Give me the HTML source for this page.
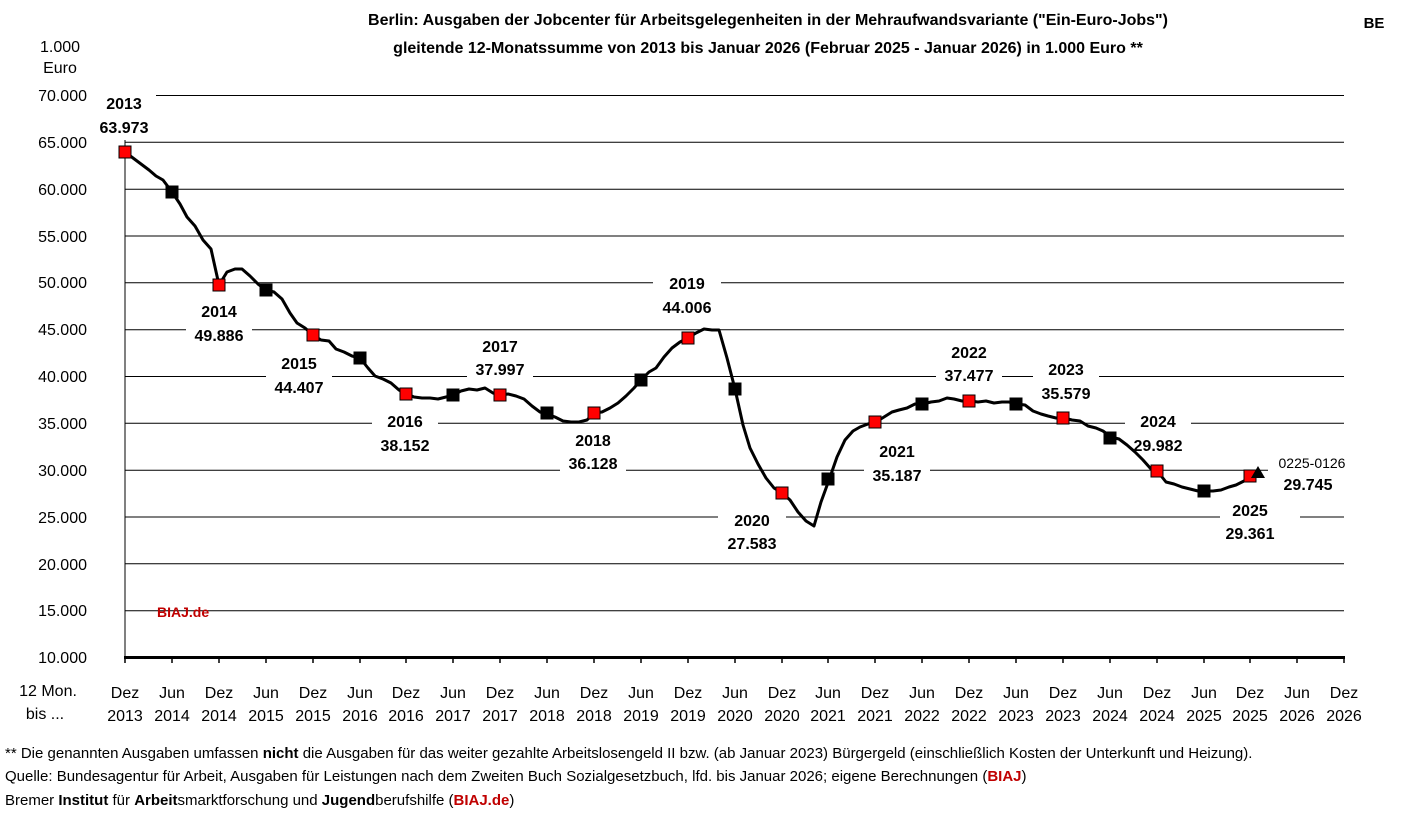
<!DOCTYPE html>
<html><head><meta charset="utf-8"><style>
html,body{margin:0;padding:0;background:#fff;}
svg{display:block;font-family:"Liberation Sans",Calibri,sans-serif;}
.t{font-size:16px;fill:#000}
.b{font-size:16px;font-weight:bold;fill:#000}
.f{font-size:15px;fill:#000}
</style></head><body>
<svg width="1406" height="813" viewBox="0 0 1406 813" xmlns="http://www.w3.org/2000/svg">
<g stroke="#000" stroke-width="1">
<line x1="125" y1="95.5" x2="1344" y2="95.5"/>
<line x1="125" y1="142.3" x2="1344" y2="142.3"/>
<line x1="125" y1="189.2" x2="1344" y2="189.2"/>
<line x1="125" y1="236" x2="1344" y2="236"/>
<line x1="125" y1="282.8" x2="1344" y2="282.8"/>
<line x1="125" y1="329.7" x2="1344" y2="329.7"/>
<line x1="125" y1="376.5" x2="1344" y2="376.5"/>
<line x1="125" y1="423.3" x2="1344" y2="423.3"/>
<line x1="125" y1="470.2" x2="1344" y2="470.2"/>
<line x1="125" y1="517" x2="1344" y2="517"/>
<line x1="125" y1="563.8" x2="1344" y2="563.8"/>
<line x1="125" y1="610.7" x2="1344" y2="610.7"/>
<line x1="125" y1="140" x2="125" y2="657"/>
</g>
<line x1="124" y1="657.5" x2="1345" y2="657.5" stroke="#000" stroke-width="3"/>
<g stroke="#000" stroke-width="1.5">
<line x1="125" y1="657" x2="125" y2="663"/><line x1="172" y1="657" x2="172" y2="663"/><line x1="219" y1="657" x2="219" y2="663"/><line x1="266" y1="657" x2="266" y2="663"/><line x1="313" y1="657" x2="313" y2="663"/><line x1="360" y1="657" x2="360" y2="663"/><line x1="406" y1="657" x2="406" y2="663"/><line x1="453" y1="657" x2="453" y2="663"/><line x1="500" y1="657" x2="500" y2="663"/><line x1="547" y1="657" x2="547" y2="663"/><line x1="594" y1="657" x2="594" y2="663"/><line x1="641" y1="657" x2="641" y2="663"/><line x1="688" y1="657" x2="688" y2="663"/><line x1="735" y1="657" x2="735" y2="663"/><line x1="782" y1="657" x2="782" y2="663"/><line x1="828" y1="657" x2="828" y2="663"/><line x1="875" y1="657" x2="875" y2="663"/><line x1="922" y1="657" x2="922" y2="663"/><line x1="969" y1="657" x2="969" y2="663"/><line x1="1016" y1="657" x2="1016" y2="663"/><line x1="1063" y1="657" x2="1063" y2="663"/><line x1="1110" y1="657" x2="1110" y2="663"/><line x1="1157" y1="657" x2="1157" y2="663"/><line x1="1204" y1="657" x2="1204" y2="663"/><line x1="1250" y1="657" x2="1250" y2="663"/><line x1="1297" y1="657" x2="1297" y2="663"/><line x1="1344" y1="657" x2="1344" y2="663"/>
</g>
<g fill="#fff">
<rect x="92" y="90" width="64" height="50"/>
<rect x="186" y="298" width="66" height="48"/>
<rect x="266" y="350" width="66" height="48"/>
<rect x="372" y="408" width="66" height="48"/>
<rect x="467" y="332" width="66" height="48"/>
<rect x="560" y="426" width="66" height="48"/>
<rect x="653" y="268" width="68" height="48"/>
<rect x="718" y="506" width="68" height="48"/>
<rect x="864" y="437" width="66" height="48"/>
<rect x="936" y="338" width="66" height="48"/>
<rect x="1033" y="356" width="66" height="48"/>
<rect x="1125" y="408" width="66" height="48"/>
<rect x="1220" y="496" width="80" height="48"/>
<rect x="1268" y="452" width="80" height="44"/>
</g>
<polyline fill="none" stroke="#000" stroke-width="3" stroke-linejoin="round" points="125,152 133,158 141,164 149,170 156,176 163,180 172,192 180,204 187,217 195,226 203,240 211,249 219,285 227,272 235,269 242,269 250,276 258,284 266,290 274,292 282,299 290,313 297,323 305,328 313,335 321,340 329,341 336,349 344,352 352,356 360,358 368,368 375,376 383,379 391,383 399,390 407,394 414,397 422,398 430,398 438,399 446,397 454,395 461,391 469,389 477,390 485,388 493,393 501,395 508,394 516,396 524,399 532,406 540,412 547,414 555,417 563,421 571,422 579,422 587,420 594,413 602,412 610,408 618,403 626,396 634,388 641,380 649,372 656,368 664,357 672,348 680,342 688,338 696,333 704,329 712,330 719,330 727,358 735,389 743,425 750,448 758,464 766,478 774,488 782,493 790,500 798,512 806,521 814,526 821,502 829,480 837,457 845,440 853,431 860,427 868,424 876,422 884,417 892,412 899,410 907,408 915,404 923,404 931,402 939,401 947,398 954,399 962,401 970,401 978,402 986,401 994,403 1002,402 1009,402 1017,404 1025,405 1033,411 1041,414 1048,416 1056,418 1064,418 1072,420 1080,421 1088,426 1096,428 1103,431 1111,437 1119,439 1127,445 1135,452 1143,460 1151,469 1158,472 1166,482 1174,484 1182,487 1190,489 1198,491 1205,491 1213,491 1221,490 1229,487 1236,485 1244,481 1252,477 1258,472"/>
<g stroke="#000" stroke-width="1">
<rect x="119" y="146" width="12" height="12" fill="#f00"/>
<rect x="166" y="186" width="12" height="12" fill="#000"/>
<rect x="213" y="279" width="12" height="12" fill="#f00"/>
<rect x="260" y="284" width="12" height="12" fill="#000"/>
<rect x="307" y="329" width="12" height="12" fill="#f00"/>
<rect x="354" y="352" width="12" height="12" fill="#000"/>
<rect x="400" y="388" width="12" height="12" fill="#f00"/>
<rect x="447" y="389" width="12" height="12" fill="#000"/>
<rect x="494" y="389" width="12" height="12" fill="#f00"/>
<rect x="541" y="407" width="12" height="12" fill="#000"/>
<rect x="588" y="407" width="12" height="12" fill="#f00"/>
<rect x="635" y="374" width="12" height="12" fill="#000"/>
<rect x="682" y="332" width="12" height="12" fill="#f00"/>
<rect x="729" y="383" width="12" height="12" fill="#000"/>
<rect x="776" y="487" width="12" height="12" fill="#f00"/>
<rect x="822" y="473" width="12" height="12" fill="#000"/>
<rect x="869" y="416" width="12" height="12" fill="#f00"/>
<rect x="916" y="398" width="12" height="12" fill="#000"/>
<rect x="963" y="395" width="12" height="12" fill="#f00"/>
<rect x="1010" y="398" width="12" height="12" fill="#000"/>
<rect x="1057" y="412" width="12" height="12" fill="#f00"/>
<rect x="1104" y="432" width="12" height="12" fill="#000"/>
<rect x="1151" y="465" width="12" height="12" fill="#f00"/>
<rect x="1198" y="485" width="12" height="12" fill="#000"/>
<rect x="1244" y="470" width="12" height="12" fill="#f00"/>
</g>
<polygon points="1258,466 1265,478 1251,478" fill="#000"/>
<text x="768" y="25" text-anchor="middle" font-size="16" font-weight="bold">Berlin: Ausgaben der Jobcenter für Arbeitsgelegenheiten in der Mehraufwandsvariante ("Ein-Euro-Jobs")</text>
<text x="768" y="53" text-anchor="middle" font-size="16" font-weight="bold">gleitende 12-Monatssumme von 2013 bis Januar 2026 (Februar 2025 - Januar 2026) in 1.000 Euro **</text>
<text x="1374" y="28" text-anchor="middle" font-size="15" font-weight="bold">BE</text>
<text x="60" y="52" text-anchor="middle" class="t">1.000</text>
<text x="60" y="73" text-anchor="middle" class="t">Euro</text>
<g class="t" text-anchor="end">
<text x="87" y="101">70.000</text><text x="87" y="148">65.000</text><text x="87" y="195">60.000</text><text x="87" y="242">55.000</text><text x="87" y="288">50.000</text><text x="87" y="335">45.000</text><text x="87" y="382">40.000</text><text x="87" y="429">35.000</text><text x="87" y="476">30.000</text><text x="87" y="523">25.000</text><text x="87" y="570">20.000</text><text x="87" y="616">15.000</text><text x="87" y="663">10.000</text>
</g>
<text x="48" y="696" text-anchor="middle" class="t">12 Mon.</text>
<text x="45" y="719" text-anchor="middle" class="t">bis ...</text>
<g class="t" text-anchor="middle">
<text x="125" y="698">Dez</text><text x="125" y="721">2013</text>
<text x="172" y="698">Jun</text><text x="172" y="721">2014</text>
<text x="219" y="698">Dez</text><text x="219" y="721">2014</text>
<text x="266" y="698">Jun</text><text x="266" y="721">2015</text>
<text x="313" y="698">Dez</text><text x="313" y="721">2015</text>
<text x="360" y="698">Jun</text><text x="360" y="721">2016</text>
<text x="406" y="698">Dez</text><text x="406" y="721">2016</text>
<text x="453" y="698">Jun</text><text x="453" y="721">2017</text>
<text x="500" y="698">Dez</text><text x="500" y="721">2017</text>
<text x="547" y="698">Jun</text><text x="547" y="721">2018</text>
<text x="594" y="698">Dez</text><text x="594" y="721">2018</text>
<text x="641" y="698">Jun</text><text x="641" y="721">2019</text>
<text x="688" y="698">Dez</text><text x="688" y="721">2019</text>
<text x="735" y="698">Jun</text><text x="735" y="721">2020</text>
<text x="782" y="698">Dez</text><text x="782" y="721">2020</text>
<text x="828" y="698">Jun</text><text x="828" y="721">2021</text>
<text x="875" y="698">Dez</text><text x="875" y="721">2021</text>
<text x="922" y="698">Jun</text><text x="922" y="721">2022</text>
<text x="969" y="698">Dez</text><text x="969" y="721">2022</text>
<text x="1016" y="698">Jun</text><text x="1016" y="721">2023</text>
<text x="1063" y="698">Dez</text><text x="1063" y="721">2023</text>
<text x="1110" y="698">Jun</text><text x="1110" y="721">2024</text>
<text x="1157" y="698">Dez</text><text x="1157" y="721">2024</text>
<text x="1204" y="698">Jun</text><text x="1204" y="721">2025</text>
<text x="1250" y="698">Dez</text><text x="1250" y="721">2025</text>
<text x="1297" y="698">Jun</text><text x="1297" y="721">2026</text>
<text x="1344" y="698">Dez</text><text x="1344" y="721">2026</text>
</g>
<g class="b" text-anchor="middle">
<text x="124" y="109">2013</text><text x="124" y="133">63.973</text>
<text x="219" y="317">2014</text><text x="219" y="341">49.886</text>
<text x="299" y="369">2015</text><text x="299" y="393">44.407</text>
<text x="405" y="427">2016</text><text x="405" y="451">38.152</text>
<text x="500" y="352">2017</text><text x="500" y="375">37.997</text>
<text x="593" y="446">2018</text><text x="593" y="469">36.128</text>
<text x="687" y="289">2019</text><text x="687" y="313">44.006</text>
<text x="752" y="526">2020</text><text x="752" y="549">27.583</text>
<text x="897" y="457">2021</text><text x="897" y="481">35.187</text>
<text x="969" y="358">2022</text><text x="969" y="381">37.477</text>
<text x="1066" y="375">2023</text><text x="1066" y="399">35.579</text>
<text x="1158" y="427">2024</text><text x="1158" y="451">29.982</text>
<text x="1250" y="516">2025</text><text x="1250" y="539">29.361</text>
<text x="1308" y="490">29.745</text>
</g>
<text x="1312" y="468" text-anchor="middle" font-size="14">0225-0126</text>
<text x="157" y="617" font-size="14" font-weight="bold" fill="#c00000">BIAJ.de</text>
<text x="5" y="758" class="f">** Die genannten Ausgaben umfassen <tspan font-weight="bold">nicht</tspan> die Ausgaben für das weiter gezahlte Arbeitslosengeld II bzw. (ab Januar 2023) Bürgergeld (einschließlich Kosten der Unterkunft und Heizung).</text>
<text x="5" y="781" class="f">Quelle: Bundesagentur für Arbeit, Ausgaben für Leistungen nach dem Zweiten Buch Sozialgesetzbuch, lfd. bis Januar 2026; eigene Berechnungen (<tspan font-weight="bold" fill="#c00000">BIAJ</tspan>)</text>
<text x="5" y="805" class="f">Bremer <tspan font-weight="bold">Institut</tspan> für <tspan font-weight="bold">Arbeit</tspan>smarktforschung und <tspan font-weight="bold">Jugend</tspan>berufshilfe (<tspan font-weight="bold" fill="#c00000">BIAJ.de</tspan>)</text>
</svg>
</body></html>
